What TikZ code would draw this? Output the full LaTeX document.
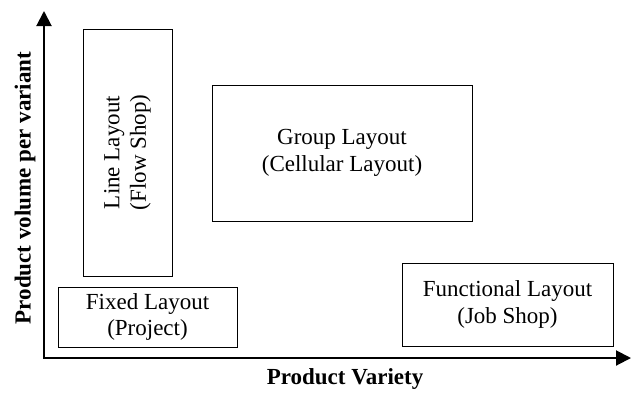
\documentclass[tikz,border=0pt]{standalone}
\usepackage{fontspec}
\setmainfont{Liberation Serif}
\usetikzlibrary{arrows.meta}
\tikzset{
    boite/.style={draw, line width=1pt, align=center, inner sep=0pt, outer sep=0pt,
        font=\fontsize{23}{26.5}\selectfont},
    axe/.style={{Triangle[length=15pt, width=15pt]}-{Triangle[length=15pt, width=15pt]}, line width=2pt},
    titre/.style={font=\fontsize{23}{26.5}\selectfont\bfseries},
}

\begin{document}
\begin{tikzpicture}[x=1pt, y=-1pt]
\useasboundingbox (0,0) rectangle (631,392);
% Axes
\coordinate (haut) at (44,11);
\coordinate (origine) at (44,358);
\coordinate (droite) at (631,358);
\draw[axe] (haut) -- (origine) -- (droite);
\node[titre] (variete) at (345,379) {Product Variety};
\node[titre, rotate=90] (volume) at (25,188) {Product volume per variant};
% Types d'implantation
\node[boite, rotate=90, minimum width=247pt, minimum height=89pt] (ligne) at (127.5,152.5) {Line Layout\\(Flow Shop)};
\node[boite, minimum width=179pt, minimum height=60pt] (fixe) at (147.5,317) {Fixed Layout\\(Project)};
\node[boite, minimum width=260pt, minimum height=136pt] (groupe) at (342,153) {Group Layout\\(Cellular Layout)};
\node[boite, minimum width=211pt, minimum height=83pt] (fonction) at (507.5,304.5) {Functional Layout\\(Job Shop)};
\end{tikzpicture}
\end{document}
